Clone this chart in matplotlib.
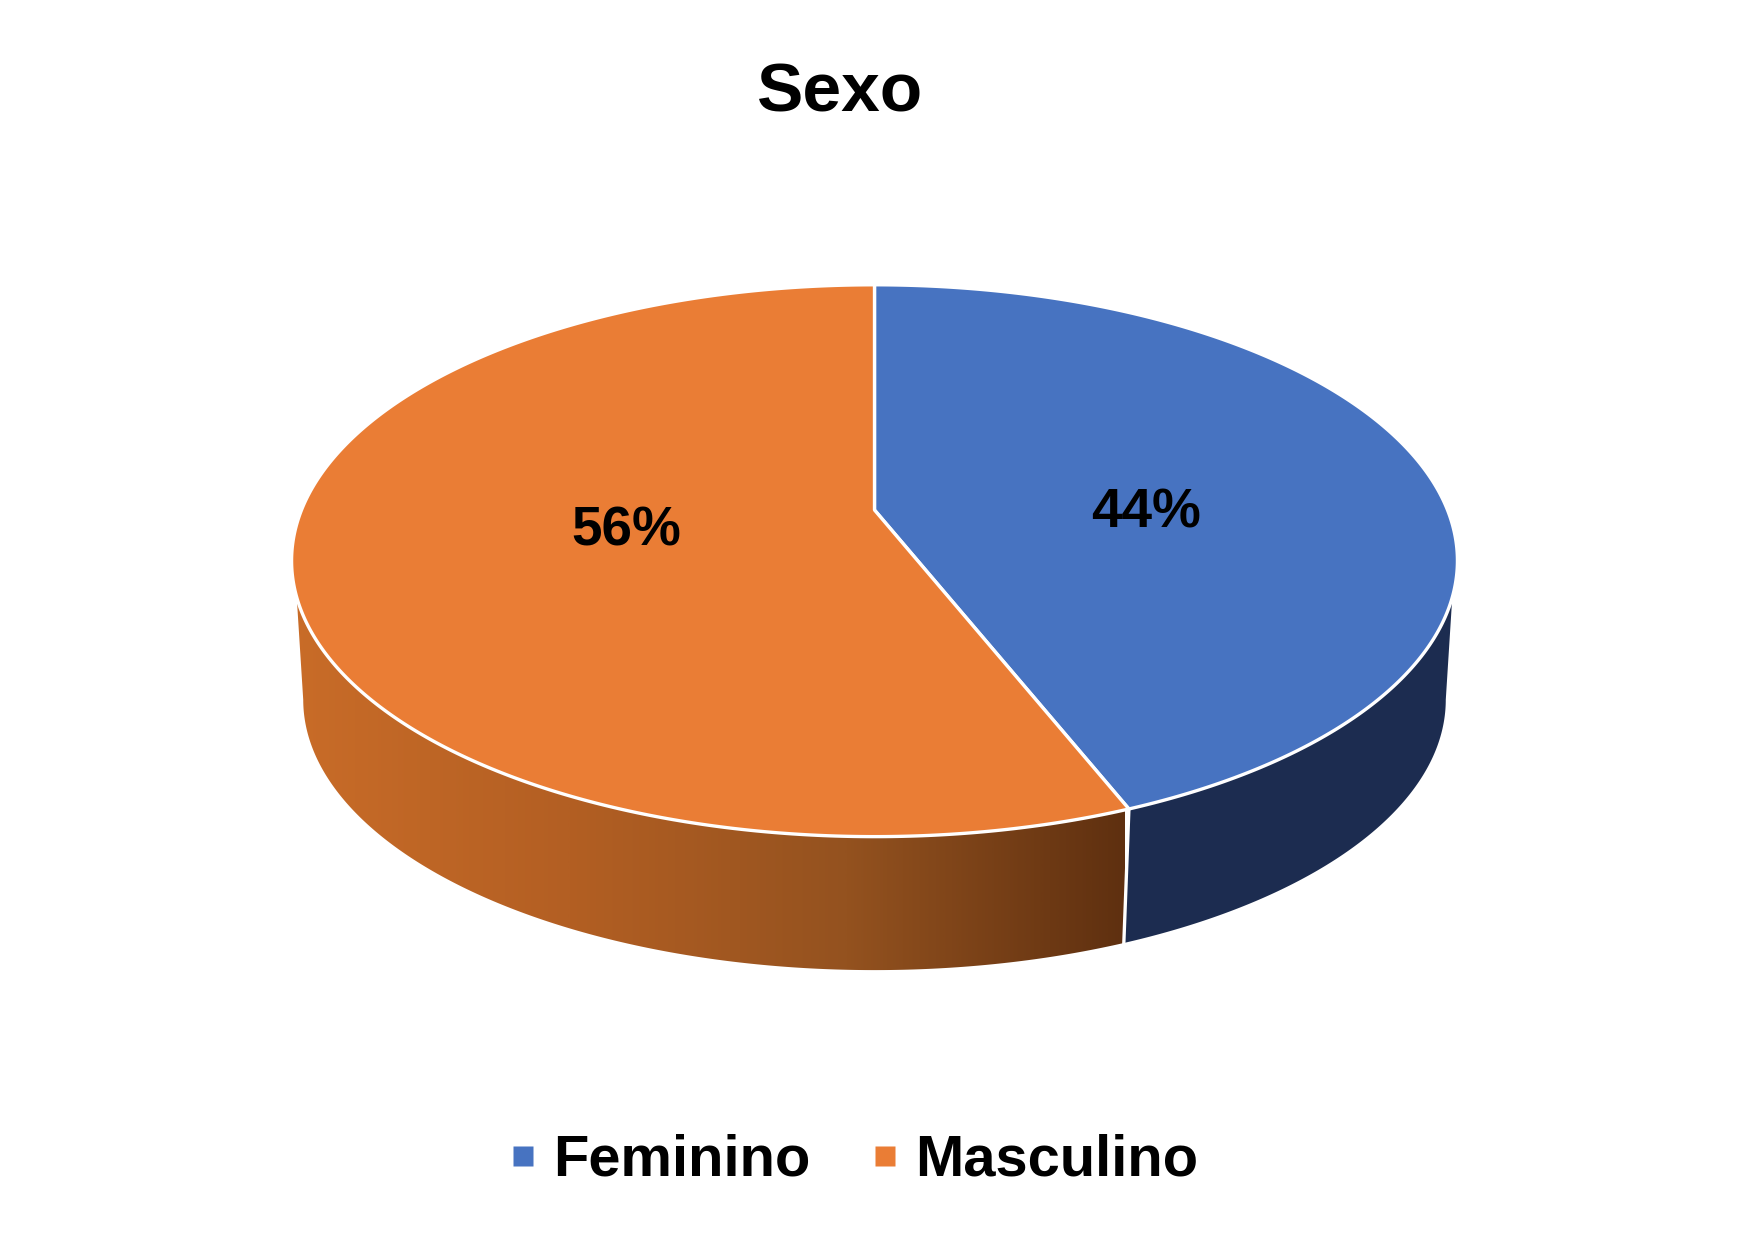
"""Sexo - 3D style pie chart."""

import numpy as np
import matplotlib
matplotlib.use('Agg')

import matplotlib.pyplot as plt
from matplotlib.colors import LinearSegmentedColormap
from matplotlib.lines import Line2D
from matplotlib.patches import Polygon

plt.rcParams['font.family'] = ['Liberation Sans', 'DejaVu Sans']

title = 'Sexo'
labels = ['Feminino', 'Masculino']
values = [44, 56]
colors = ['#4773c1', '#ea7d35']
blue_side = '#1c2c50'
orange_side = ['#c96c28', '#b35f23', '#94521f', '#5f3010']

# perspective of the disc, in pixels
cx, cy = 874.5, 510.0
b, a, k = 573.0, 266.6, 0.1838
scale, depth = 0.98, 140.0


def top_rim(theta):
    # theta in degrees, clockwise from 12 o'clock
    t = np.radians(theta)
    d = 1 + k * np.cos(t)
    return cx + b * np.sin(t) / d, cy - a * np.cos(t) / d


def bottom_rim(theta):
    t = np.radians(theta)
    d = 1 + k * np.cos(t)
    return cx + scale * b * np.sin(t) / d, cy + depth - scale * a * np.cos(t) / d


def band(t0, t1, b0, b1):
    # side wall: top rim from t0 to t1, back along the bottom rim
    x0, y0 = top_rim(np.linspace(t0, t1, 200))
    x1, y1 = bottom_rim(np.linspace(b1, b0, 200))
    return np.column_stack([np.r_[x0, x1], np.r_[y0, y1]])


fig = plt.figure(figsize=(17.49, 12.41), dpi=100)
ax = fig.add_axes([0, 0, 1, 1])

split = 360.0 * values[0] / sum(values)

# side walls
ax.add_patch(Polygon(band(108.0, split, 100.6, split), closed=True,
                     facecolor=blue_side, edgecolor='none', zorder=1))

orange_poly = Polygon(band(split, 252.0, split, 259.4), closed=True,
                      facecolor='none', edgecolor='none', zorder=1)
ax.add_patch(orange_poly)
cmap = LinearSegmentedColormap.from_list('side', orange_side)
im = ax.imshow(np.linspace(0, 1, 512).reshape(1, -1), cmap=cmap, aspect='auto',
               extent=[290, 1125, 980, 560], zorder=1)
im.set_clip_path(orange_poly)

# white seam between the walls
sx0, sy0 = top_rim(split)
sx1, sy1 = bottom_rim(split)
ax.plot([sx0, sx1], [sy0, sy1], color='white', lw=2.4, zorder=2)

# top of the disc
start = 0.0
for value, color in zip(values, colors):
    stop = start + 360.0 * value / sum(values)
    rx, ry = top_rim(np.linspace(start, stop, 400))
    pts = np.column_stack([np.r_[cx, rx], np.r_[cy, ry]])
    ax.add_patch(Polygon(pts, closed=True, facecolor=color, edgecolor='white',
                         lw=2.4, joinstyle='round', zorder=3))
    start = stop

# percent labels
ax.text(1146, 513, '%d%%' % values[0], ha='center', va='center', fontsize=39.5,
        fontweight='bold', color='black', zorder=4)
ax.text(626, 532, '%d%%' % values[1], ha='center', va='center', fontsize=39.5,
        fontweight='bold', color='black', zorder=4)

ax.text(840, 94, title, ha='center', va='center', fontsize=50, fontweight='bold')

handles = [Line2D([], [], linestyle='none', marker='s', markersize=14,
                  markerfacecolor=c, markeredgecolor='none') for c in colors]
ax.legend(handles, labels, loc='center', bbox_to_anchor=(853.0 / 1749, 1 - 1161.0 / 1241),
          ncol=2, frameon=False, prop={'size': 41.7, 'weight': 'bold'},
          handlelength=0.5, handletextpad=0.27, columnspacing=1.04, borderpad=0)

ax.set_xlim(0, 1749)
ax.set_ylim(1241, 0)
ax.axis('off')

plt.savefig('out.png', dpi=100, facecolor='white')
